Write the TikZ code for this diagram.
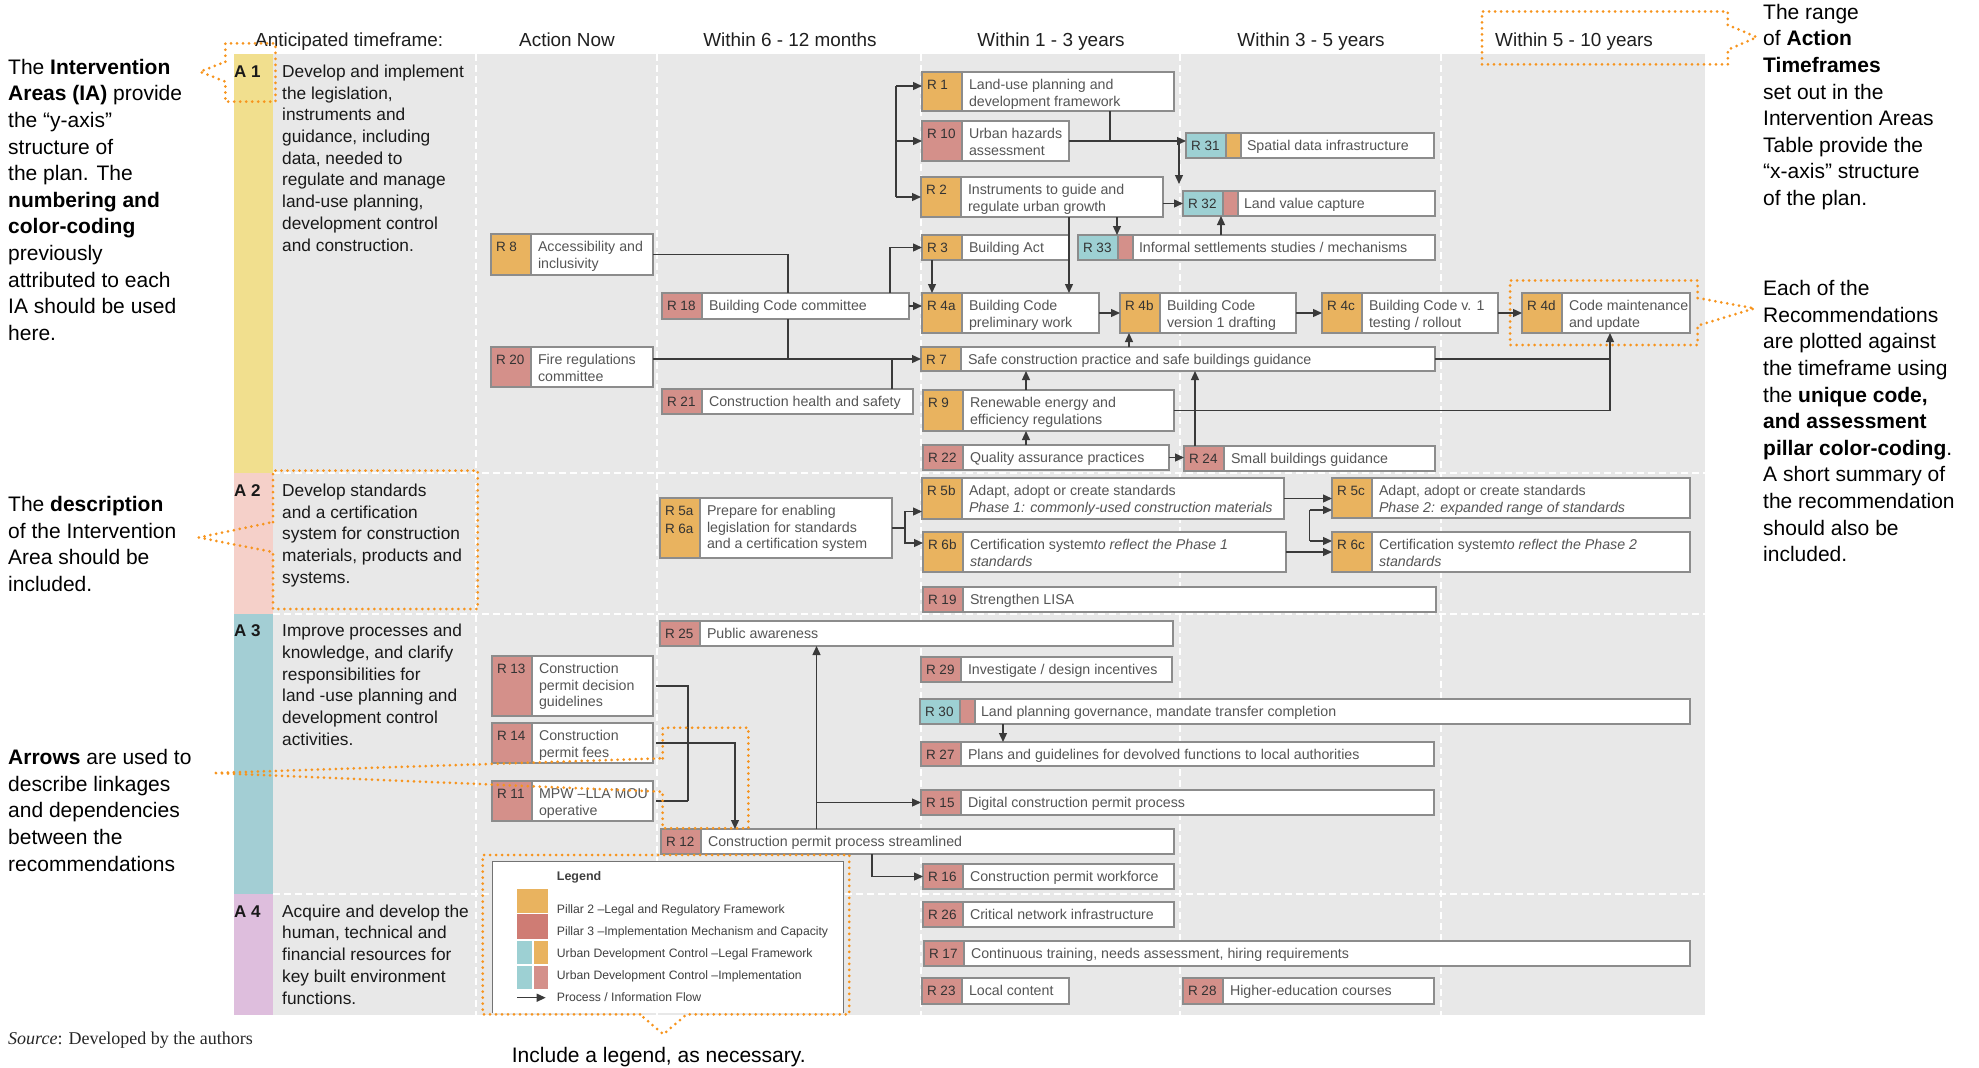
\documentclass[tikz,border=0pt]{standalone}
\usepackage{fontspec}
\setmainfont{Liberation Sans}
\newfontfamily\sourcefont{Liberation Serif}
\usetikzlibrary{arrows.meta}

\definecolor{panel}{HTML}{E8E8E8}
\definecolor{aone}{HTML}{F1DF8E}
\definecolor{atwo}{HTML}{F5D0C9}
\definecolor{athree}{HTML}{A3CED4}
\definecolor{afour}{HTML}{DEBEDD}
\definecolor{codeor}{HTML}{E9B35F}
\definecolor{codepk}{HTML}{D4908A}
\definecolor{codetl}{HTML}{9DD0D3}
\definecolor{legred}{HTML}{CF7C74}
\definecolor{boxgrey}{HTML}{8C8C8C}
\definecolor{flowink}{HTML}{3A3A3A}
\definecolor{codeink}{HTML}{333333}
\definecolor{descink}{HTML}{555555}
\definecolor{hintorange}{HTML}{F7941D}

\tikzset{
  recbox/.style={anchor=north west, inner sep=0pt, outer sep=0pt, fill=white},
  boxline/.style={draw=boxgrey, line width=1.4pt},
  codetxt/.style={anchor=north west, inner sep=0pt, outer sep=0pt, align=left,
    font={\fontsize{13.5}{17.5}\selectfont}, text=codeink},
  desctxt/.style={anchor=north west, inner sep=0pt, outer sep=0pt, align=left,
    font={\fontsize{14.2}{16.9}\selectfont}, text=descink},
  flow/.style={draw=flowink, line width=1.3pt, -{Triangle[length=9pt,width=8pt]}},
  lnk/.style={draw=flowink, line width=1.3pt},
  gridline/.style={draw=white, line width=2pt, dash pattern=on 7pt off 4pt},
  hintline/.style={draw=hintorange, line width=3pt, dash pattern=on 0pt off 6pt,
    line cap=round, line join=round},
  headtxt/.style={anchor=base, inner sep=0pt, font={\fontsize{18.9}{22}\selectfont}, text=black!88},
  areatxt/.style={anchor=north west, inner sep=0pt, align=left,
    font={\fontsize{17.3}{21.7}\selectfont}, text=black!90},
  arealbl/.style={anchor=base west, inner sep=0pt, font={\fontsize{17}{20}\selectfont\bfseries}, text=black!90},
  notetxt/.style={anchor=north west, inner sep=0pt, align=left,
    font={\fontsize{21}{26.6}\selectfont}, text=black},
  legtxt/.style={anchor=base west, inner sep=0pt, font={\fontsize{12.2}{14}\selectfont}, text=black!75},
}

% recommendation box: name, x1, y1, x2, y2, code colour, code, summary
\newcommand\recnode[8]{%
  \node[recbox, minimum width={(#4-#2)*1pt}, minimum height={(#5-#3)*1pt}] (#1) at (#2,#3) {};
  \fill[#6] (#1.north west) rectangle ([xshift=40pt]#1.south west);
  \draw[boxline] (#1.north west) rectangle (#1.south east);
  \draw[boxline] ([xshift=40pt]#1.north west) -- ([xshift=40pt]#1.south west);
  \node[codetxt] (#1c) at ([xshift=5pt,yshift=-5.3pt]#1.north west) {\strut #7};
  \node[desctxt] (#1t) at ([xshift=47pt,yshift=-5.3pt]#1.north west) {\strut #8};
}
% recommendation box with a second colour stripe after the code
\newcommand\recstripe[9]{%
  \node[recbox, minimum width={(#4-#2)*1pt}, minimum height={(#5-#3)*1pt}] (#1) at (#2,#3) {};
  \fill[#6] (#1.north west) rectangle ([xshift=40pt]#1.south west);
  \fill[#7] ([xshift=40pt]#1.north west) rectangle ([xshift=55pt]#1.south west);
  \draw[boxline] (#1.north west) rectangle (#1.south east);
  \draw[boxline] ([xshift=40pt]#1.north west) -- ([xshift=40pt]#1.south west);
  \draw[boxline] ([xshift=55pt]#1.north west) -- ([xshift=55pt]#1.south west);
  \node[codetxt] (#1c) at ([xshift=5pt,yshift=-5.3pt]#1.north west) {\strut #8};
  \node[desctxt] (#1t) at ([xshift=61pt,yshift=-5.3pt]#1.north west) {\strut #9};
}

\begin{document}
\begin{tikzpicture}[x=1pt,y=-1pt]
\useasboundingbox[fill=white] (0,0) rectangle (1979,1068);

% ---------- panel, area bars and grid ----------
\fill[panel] (273,54) rectangle (1705,1015);
\fill[aone] (234,54) rectangle (273,473);
\fill[atwo] (234,473) rectangle (273,614);
\fill[athree] (234,614) rectangle (273,894);
\fill[afour] (234,894) rectangle (273,1015);
\foreach \gx in {476,657,921,1180,1441} \draw[gridline] (\gx,54) -- (\gx,1015);
\foreach \gy in {473,614,894} \draw[gridline] (273,\gy) -- (1705,\gy);

% ---------- column headings ----------
\node[headtxt, anchor=base west] (hd0) at (255,46.7) {Anticipated timeframe:};
\node[headtxt] (hd1) at (567,46.7) {Action Now};
\node[headtxt] (hd2) at (790,46.7) {Within 6 - 12 months};
\node[headtxt] (hd3) at (1051,46.7) {Within 1 - 3 years};
\node[headtxt] (hd4) at (1311,46.7) {Within 3 - 5 years};
\node[headtxt] (hd5) at (1574,46.7) {Within 5 - 10 years};

% ---------- intervention areas ----------
\node[arealbl] (la1) at (234,77.3) {A 1};
\node[arealbl] (la2) at (234,496.2) {A 2};
\node[arealbl] (la3) at (234,636.7) {A 3};
\node[arealbl] (la4) at (234,917) {A 4};
\node[areatxt] (ta1) at (282,62.1) {\strut Develop and implement\\the legislation,\\instruments and\\guidance, including\\data, needed to\\regulate and manage\\land-use planning,\\development control\\and construction.};
\node[areatxt] (ta2) at (282,481) {\strut Develop standards\\and a certification\\system for construction\\materials, products and\\systems.};
\node[areatxt] (ta3) at (282,621.5) {\strut Improve processes and\\knowledge, and clarify\\responsibilities for\\land -use planning and\\development control\\activities.};
\node[areatxt] (ta4) at (282,901.8) {\strut Acquire and develop the\\human, technical and\\financial resources for\\key built environment\\functions.};

% ---------- recommendations, A 1 ----------
\recnode{r8}{491}{234}{653}{275}{codeor}{R 8}{Accessibility and\\inclusivity}
\recnode{r20}{491}{347}{653}{387}{codepk}{R 20}{Fire regulations\\committee}
\recnode{r18}{662}{293}{909}{319}{codepk}{R 18}{Building Code committee}
\recnode{r21}{662}{389}{913}{414}{codepk}{R 21}{Construction health and safety}
\recnode{r1}{922}{72}{1174}{111}{codeor}{R 1}{Land-use planning and\\development framework}
\recnode{r10}{922}{121}{1069}{161}{codepk}{R 10}{Urban hazards\\assessment}
\recnode{r2}{921}{177}{1163}{217}{codeor}{R 2}{Instruments to guide and\\regulate urban growth}
\recnode{r3}{922}{235}{1069}{260}{codeor}{R 3}{Building Act}
\recstripe{r33}{1078}{235}{1435}{260}{codetl}{codepk}{R 33}{Informal settlements studies / mechanisms}
\recstripe{r31}{1186}{133}{1434}{158}{codetl}{codeor}{R 31}{Spatial data infrastructure}
\recstripe{r32}{1183}{191}{1435}{216}{codetl}{codepk}{R 32}{Land value capture}
\recnode{r4a}{922}{293}{1099}{333}{codeor}{R 4a}{Building Code\\preliminary work}
\recnode{r4b}{1120}{293}{1296}{333}{codeor}{R 4b}{Building Code\\version 1 drafting}
\recnode{r4c}{1322}{293}{1498}{333}{codeor}{R 4c}{Building Code v. 1\\testing / rollout}
\recnode{r4d}{1522}{293}{1690}{333}{codeor}{R 4d}{Code maintenance\\and update}
\recnode{r7}{921}{347}{1435}{371}{codeor}{R 7}{Safe construction practice and safe buildings guidance}
\recnode{r9}{923}{390}{1174}{431}{codeor}{R 9}{Renewable energy and\\efficiency regulations}
\recnode{r22}{923}{445}{1169}{470}{codepk}{R 22}{Quality assurance practices}
\recnode{r24}{1184}{446}{1435}{471}{codepk}{R 24}{Small buildings guidance}

% ---------- recommendations, A 2 ----------
\recnode{r5a}{660}{498}{892}{558}{codeor}{R 5a\\R 6a}{Prepare for enabling\\legislation for standards\\and a certification system}
\recnode{r5b}{922}{478}{1284}{519}{codeor}{R 5b}{Adapt, adopt or create standards\\\textit{Phase 1: commonly-used construction materials}}
\recnode{r6b}{923}{532}{1286}{572}{codeor}{R 6b}{Certification system\textit{to reflect the Phase 1}\\\textit{standards}}
\recnode{r5c}{1332}{478}{1690}{518}{codeor}{R 5c}{Adapt, adopt or create standards\\\textit{Phase 2: expanded range of standards}}
\recnode{r6c}{1332}{532}{1690}{572}{codeor}{R 6c}{Certification system\textit{to reflect the Phase 2}\\\textit{standards}}
\recnode{r19}{923}{587}{1436}{612}{codepk}{R 19}{Strengthen LISA}

% ---------- recommendations, A 3 ----------
\recnode{r25}{660}{621}{1173}{646}{codepk}{R 25}{Public awareness}
\recnode{r13}{492}{656}{653}{716}{codepk}{R 13}{Construction\\permit decision\\guidelines}
\recnode{r14}{492}{723}{653}{763}{codepk}{R 14}{Construction\\permit fees}
\recnode{r11}{492}{781}{653}{821}{codepk}{R 11}{MPW –LLA MOU\\operative}
\recnode{r29}{921}{657}{1172}{682}{codepk}{R 29}{Investigate / design incentives}
\recstripe{r30}{920}{699}{1690}{724}{codetl}{codepk}{R 30}{Land planning governance, mandate transfer completion}
\recnode{r27}{921}{742}{1434}{766}{codepk}{R 27}{Plans and guidelines for devolved functions to local authorities}
\recnode{r15}{921}{790}{1434}{815}{codepk}{R 15}{Digital construction permit process}
\recnode{r12}{661}{829}{1174}{854}{codepk}{R 12}{Construction permit process streamlined}
\recnode{r16}{923}{864}{1174}{889}{codepk}{R 16}{Construction permit workforce}

% ---------- recommendations, A 4 ----------
\recnode{r26}{923}{902}{1174}{927}{codepk}{R 26}{Critical network infrastructure}
\recnode{r17}{924}{941}{1690}{966}{codepk}{R 17}{Continuous training, needs assessment, hiring requirements}
\recnode{r23}{922}{978}{1069}{1004}{codepk}{R 23}{Local content}
\recnode{r28}{1183}{978}{1434}{1004}{codepk}{R 28}{Higher-education courses}

% ---------- connector guide positions ----------
\coordinate (xa) at (788,0);
\coordinate (xb) at (892,0);
\coordinate (xc) at (890,0);
\coordinate (xd) at (932,0);
\coordinate (xe) at (1069,0);
\coordinate (xf) at (1117,0);
\coordinate (xg) at (1221,0);
\coordinate (xh) at (1110,0);
\coordinate (xj) at (1129,0);
\coordinate (xk) at (1026,0);
\coordinate (xl) at (1195,0);
\coordinate (xm) at (1610,0);
\coordinate (xn) at (905,0);
\coordinate (xo) at (688,0);
\coordinate (xp) at (735,0);
\coordinate (xq) at (816.5,0);
\coordinate (xr) at (872,0);
\coordinate (xs) at (1003,0);
\coordinate (dn1) at (1179,141);
\coordinate (dn2) at (1179,184);
\coordinate (br1) at (896,86);
\coordinate (br2) at (896,197);
\coordinate (ya) at (0,511.5);
\coordinate (yb) at (0,543);
\coordinate (yc) at (1309.5,510);
\coordinate (yd) at (1309.5,541);

% ---------- connectors, A 1 ----------
\draw[lnk] (r8.east) -| (xa |- r18.north);
\draw[lnk] (xa |- r18.south) -- (xa |- r7.west);
\draw[flow] (r20.east |- r7.west) -- (r7.west);
\draw[lnk] (xb |- r21.north) -- (xb |- r7.west);
\draw[flow] (xc |- r18.north) |- (r3.west);
\draw[flow] (r18.east) -- (r18.east -| r4a.west);
\draw[flow] (xd |- r3.south) -- (xd |- r4a.north);
\draw[flow] (xe |- r2.south) -- (xe |- r4a.north);
\draw[flow] (xf |- r2.south) -- (xf |- r33.north);
\draw[flow] (xg |- r33.north) -- (xg |- r32.south);
\draw[flow] (r2.east |- r32.west) -- (r32.west);
\draw[lnk] (xh |- r1.south) -- (xh |- r10.east);
\draw[flow] (r10.east) -- (r10.east -| r31.west);
\draw[flow] (dn1) -- (dn2);
\draw[lnk] (br1) -- (br2);
\draw[flow] (br1) -- (br1 -| r1.west);
\draw[flow] (br1 |- r10.west) -- (r10.west);
\draw[flow] (br2) -- (br2 -| r2.west);
\draw[flow] (r4a.east) -- (r4a.east -| r4b.west);
\draw[flow] (r4b.east) -- (r4b.east -| r4c.west);
\draw[flow] (r4c.east) -- (r4c.east -| r4d.west);
\draw[flow] (xj |- r7.north) -- (xj |- r4b.south);
\draw[flow] (xk |- r9.north) -- (xk |- r7.south);
\draw[flow] (xk |- r22.north) -- (xk |- r9.south);
\draw[flow] (r22.east) -- (r22.east -| r24.west);
\draw[flow] (xl |- r24.north) -- (xl |- r7.south);
\draw[lnk] (r7.east) -- (r7.east -| xm);
\draw[flow] (r9.east) -| (xm |- r4d.south);

% ---------- connectors, A 2 ----------
\draw[lnk] (r5a.east) -- (r5a.east -| xn);
\draw[flow] (r5a.east -| xn) |- (r5b.west |- ya);
\draw[flow] (r5a.east -| xn) |- (r6b.west |- yb);
\draw[flow] (r5b.east) -- (r5b.east -| r5c.west);
\draw[flow] (r6b.east) -- (r6b.east -| r6c.west);
\draw[lnk] (yc) -- (yd);
\draw[flow] (yc) -- (yc -| r5c.west);
\draw[flow] (yd) -- (yd -| r6c.west);

% ---------- connectors, A 3 ----------
\draw[lnk, shorten <=3pt] (r13.east) -| (xo |- r11.east);
\draw[lnk, shorten <=3pt] (r11.east) -- (r11.east -| xo);
\draw[flow, shorten <=3pt] (r14.east) -| (xp |- r12.north);
\draw[flow] (xq |- r12.north) -- (xq |- r25.south);
\draw[flow] (xq |- r15.west) -- (r15.west);
\draw[flow] (xr |- r12.south) |- (r16.west);
\draw[flow] (xs |- r30.south) -- (xs |- r27.north);

% ---------- legend ----------
\draw[draw=black!55, line width=1.3pt, fill=white] (492.3,1013) -- (492.3,861.7) -- (843.3,861.7) -- (843.3,1013);
\node[legtxt, font={\fontsize{12.5}{14}\selectfont\bfseries}] (lgh) at (556.7,880.5) {Legend};
\fill[codeor] (517.3,889.3) rectangle (548.3,912.7);
\fill[legred] (517.3,914.3) rectangle (548.3,939.3);
\fill[codetl] (517.3,941.3) rectangle (532.3,964.3);
\fill[codeor] (533.7,941.3) rectangle (548.3,964.3);
\fill[codetl] (517.3,966) rectangle (532.3,989.3);
\fill[codepk] (533.7,966) rectangle (548.3,989.3);
\coordinate (lga) at (517.3,997.7);
\coordinate (lgb) at (545.7,997.7);
\draw[flow] (lga) -- (lgb);
\node[legtxt] (lg1) at (556.7,913) {Pillar 2 –Legal and Regulatory Framework};
\node[legtxt] (lg2) at (556.7,935) {Pillar 3 –Implementation Mechanism and Capacity};
\node[legtxt] (lg3) at (556.7,957) {Urban Development Control –Legal Framework};
\node[legtxt] (lg4) at (556.7,979) {Urban Development Control –Implementation};
\node[legtxt] (lg5) at (556.7,1001.6) {Process / Information Flow};

% ---------- dotted call-outs ----------
\draw[hintline] (225.4,61.7) -- (225.4,43.3) -- (275.4,43.3) -- (275.4,101.7) -- (225.4,101.7) -- (225.4,81.7) -- (200,71.7) -- cycle;
\draw[hintline] (273,522) -- (273,470.5) -- (477.7,470.5) -- (477.7,609) -- (273,609) -- (273,552) -- (198.7,537.5) -- cycle;
\draw[hintline] (662.7,758.3) -- (662.7,727.7) -- (748.3,727.7) -- (748.3,828.3) -- (662.7,828.3) -- (662.7,791.7) -- (213,773) -- cycle;
\draw[hintline] (640,1014.3) -- (482.7,1014.3) -- (482.7,855) -- (849.3,855) -- (849.3,1014.3) -- (686.7,1014.3) -- (663.3,1034.3) -- cycle;
\draw[hintline] (1727.8,24.9) -- (1727.8,11.5) -- (1482,11.5) -- (1482,64.4) -- (1727.8,64.4) -- (1727.8,49.8) -- (1756.8,37.2) -- cycle;
\draw[hintline] (1697.5,298) -- (1697.5,280.5) -- (1510,280.5) -- (1510,345) -- (1697.5,345) -- (1697.5,325.7) -- (1754.7,308.4) -- cycle;

% ---------- explanatory notes ----------
\node[notetxt] (n1) at (8,55.4) {\strut The \textbf{Intervention}\\\textbf{Areas (IA)} provide\\the “y-axis”\\structure of\\the plan. The\\\textbf{numbering and}\\\textbf{color-coding}\\previously\\attributed to each\\IA should be used\\here.};
\node[notetxt] (n2) at (8,492.9) {\strut The \textbf{description}\\of the Intervention\\Area should be\\included.};
\node[notetxt] (n3) at (8,745.9) {\strut\textbf{Arrows} are used to\\describe linkages\\and dependencies\\between the\\recommendations};
\node[notetxt] (n4) at (1763,0.4) {\strut The range\\of \textbf{Action}\\\textbf{Timeframes}\\set out in the\\Intervention Areas\\Table provide the\\“x-axis” structure\\of the plan.};
\node[notetxt] (n5) at (1763,276.9) {\strut Each of the\\Recommendations\\are plotted against\\the timeframe using\\the \textbf{unique code,}\\\textbf{and assessment}\\\textbf{pillar color-coding}.\\A short summary of\\the recommendation\\should also be\\included.};
\node[anchor=base west, inner sep=0pt, font={\fontsize{21}{26}\selectfont}] (n6) at (511.7,1062.3) {Include a legend, as necessary.};
\node[anchor=base west, inner sep=0pt, font={\sourcefont\fontsize{18}{22}\selectfont}, text=black!85] (src) at (8,1044.3) {\textit{Source}: Developed by the authors};
\end{tikzpicture}
\end{document}
